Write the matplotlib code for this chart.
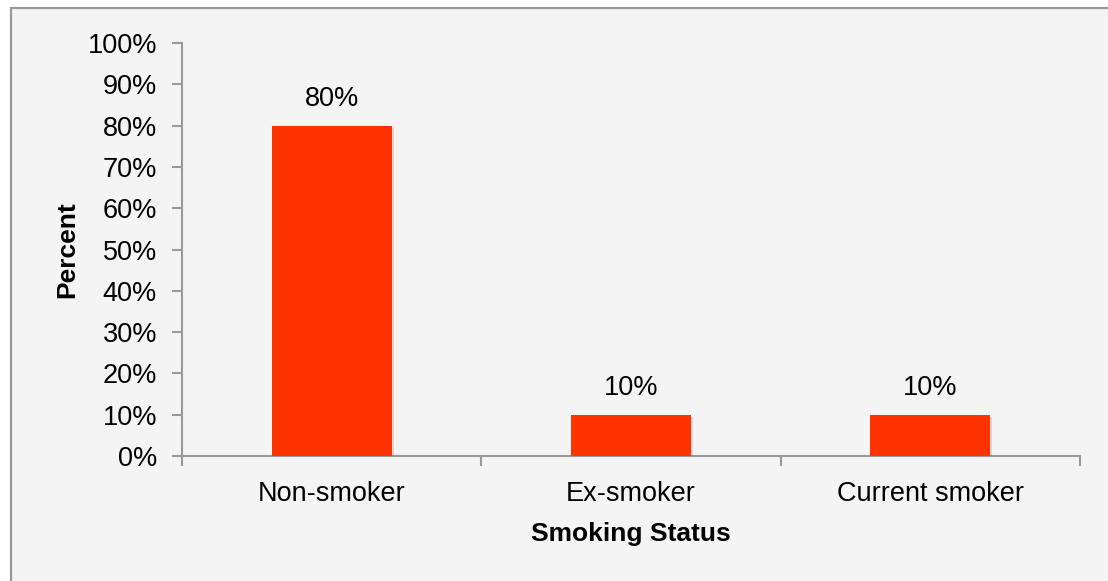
import matplotlib.pyplot as plt
from matplotlib.patches import Rectangle
from matplotlib.ticker import FixedLocator, FuncFormatter
import matplotlib.patheffects as pe

categories = ["Non-smoker", "Ex-smoker", "Current smoker"]
percent = [80, 10, 10]
y_ticks = [0, 10, 20, 30, 40, 50, 60, 70, 80, 90, 100]

plt.rcParams['font.family'] = ['Liberation Sans', 'DejaVu Sans']
plt.rcParams['font.size'] = 19

fig = plt.figure(figsize=(11.08, 5.81), dpi=100)
fig.patch.set_facecolor('white')

# grey panel behind the chart, border only on top and left
W, H = 1108, 581
fig.patches.append(Rectangle((10.5 / W, -0.1), 1.2, (H - 7.5) / H + 0.1,
                             transform=fig.transFigure, facecolor='#f4f4f4',
                             edgecolor='#989898', linewidth=1.6, zorder=-10))

ax = fig.add_axes([182 / W, 1 - 456 / H, (1080 - 182) / W, (456 - 43) / H])
ax.set_zorder(1)
ax.set_facecolor('none')

x = range(len(categories))
bars = ax.bar(x, percent, width=0.4, color='#ff3300', zorder=3)
for b in bars:
    b.set_path_effects([pe.SimplePatchShadow(offset=(1.5, -1.5), alpha=0.18,
                                             shadow_rgbFace='#555555'),
                        pe.Normal()])

for i, v in enumerate(percent):
    ax.annotate(f"{v}%", (i, v), xytext=(0, 14.4), textcoords='offset points',
                ha='center', va='baseline', fontsize=19.5)

ax.set_xlim(-0.5, len(categories) - 0.5)
ax.set_ylim(0, 100)
ax.set_yticks(y_ticks)
ax.yaxis.set_major_formatter(FuncFormatter(lambda v, p: f"{v:.0f}%"))

ax.set_xticks(list(x))
ax.set_xticklabels(categories)
ax.xaxis.set_minor_locator(FixedLocator([-0.5, 0.5, 1.5, 2.5]))
ax.tick_params(axis='x', which='major', length=0, pad=18, labelsize=19.5)
ax.tick_params(axis='x', which='minor', length=7, width=1.5, color='#999999')
ax.tick_params(axis='y', length=7, width=1.5, color='#999999', pad=11,
               labelsize=19.5)

for s in ['top', 'right']:
    ax.spines[s].set_visible(False)
for s in ['left', 'bottom']:
    ax.spines[s].set_color('#999999')
    ax.spines[s].set_linewidth(1.5)

ax.set_ylabel("Percent", fontweight='bold', fontsize=19, labelpad=6)
ax.set_xlabel("Smoking Status", fontweight='bold', fontsize=19, labelpad=11)

fig.savefig("out.png", dpi=100)
